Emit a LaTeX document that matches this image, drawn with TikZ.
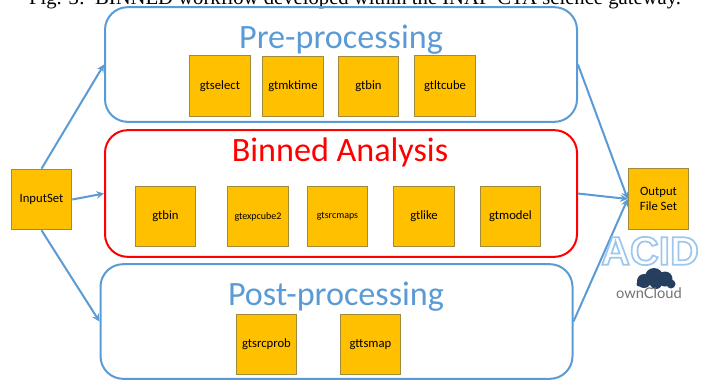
\documentclass[tikz,border=0pt]{standalone}
\usepackage{fontspec}
\setmainfont{Carlito}
\newfontfamily\capfont{Liberation Serif}
\newfontfamily\acidfont{Liberation Sans}
\newfontfamily\ocfont{Lato}
\usepackage{tikz}
\usetikzlibrary{arrows,positioning}
\definecolor{flowblue}{HTML}{5B9BD5}
\definecolor{taskgold}{HTML}{FFC000}
\definecolor{taskedge}{HTML}{A08A3C}
\definecolor{cloudnavy}{HTML}{263F5F}
\newcommand{\outlined}[1]{{\color{white}\special{pdf:code q 2 Tr 1.3 w 0.62 0.78 0.93 RG}#1\special{pdf:code 0 Tr Q}}}
\tikzset{task/.style={draw=taskedge,fill=taskgold,line width=0.7pt,minimum width=45.5pt,minimum height=45.5pt,inner sep=0pt,font=\fontsize{9.5}{11.5}\selectfont,align=center}}
\tikzstyle{stage}=[draw=flowblue,rectangle,rounded corners=17pt,line width=1.5pt,inner sep=0pt]
\tikzstyle{flow}=[flowblue,line width=1.5pt]
\tikzstyle{heading}=[inner sep=0pt,font=\fontsize{25.6}{30}\selectfont]

\begin{document}
\begin{tikzpicture}[>=stealth, x=0.75pt, y=-0.75pt]
\useasboundingbox (0,0) rectangle (703,380);
\node[inner sep=0pt,font=\capfont\fontsize{15.5}{18}\selectfont] (caption) at (355,-1) {Fig. 3:\ \ BINNED workflow developed within the INAF-CTA science gateway.};
% the three stages
\node[stage,minimum width=354pt,minimum height=86pt] (pre) at (341,64.5) {};
\node[stage,draw=red,minimum width=354pt,minimum height=95pt] (binned) at (341,193.5) {};
\node[stage,minimum width=354pt,minimum height=86pt] (post) at (336.5,321.5) {};
\node[heading,text=flowblue] (pretitle) at (341,40) {Pre-processing};
\node[heading,text=red] (bintitle) at (340,152) {Binned Analysis};
\node[heading,text=flowblue] (posttitle) at (336,297) {Post-processing};
% tasks
\node[task] (select) at (220,86) {gtselect};
\node[task] (mktime) at (293,86.5) {gtmktime};
\node[task] (bin) at (368.5,86.5) {gtbin};
\node[task] (ltcube) at (445,86) {gtltcube};
\node[task] (bin2) at (165.5,216.5) {gtbin};
\node[task,font=\fontsize{7.5}{9}\selectfont] (expcube) at (258,216.5) {gtexpcube2};
\node[task,font=\fontsize{7.5}{9}\selectfont] (srcmaps) at (337.5,216.5) {gtsrcmaps};
\node[task] (like) at (424,216.5) {gtlike};
\node[task] (model) at (510.5,216.5) {gtmodel};
\node[task] (srcprob) at (266.5,344.5) {gtsrcprob};
\node[task] (tsmap) at (370.5,344.5) {gttsmap};
\node[task] (input) at (41.5,199.5) {InputSet};
\node[task] (output) at (658.5,199) {Output\\File Set};
\path[->,flow] (input.north) edge (pre.west)
	(input.east) edge (binned.west)
	(input.south) edge (post.west)
	(pre.east) edge (output.west)
	(binned.east) edge (output.west)
	(post.east) edge (output.west);
% ACID and the cloud
\node[inner sep=0pt,font=\acidfont\bfseries\fontsize{30}{32}\selectfont] (acid) at (650,251) {\outlined{ACID}};
\foreach \cx/\cy/\cr in {654/277/9,644/281/7,665/279/7.5,671/284/4.5,639/284/2.5,656/283/6}
	\fill[cloudnavy] (\cx,\cy) circle (\cr);
\node[inner sep=0pt,text=black!55,font=\ocfont\fontsize{11}{12}\selectfont] (owncloud) at (649,293) {ownCloud};
\end{tikzpicture}
\end{document}
